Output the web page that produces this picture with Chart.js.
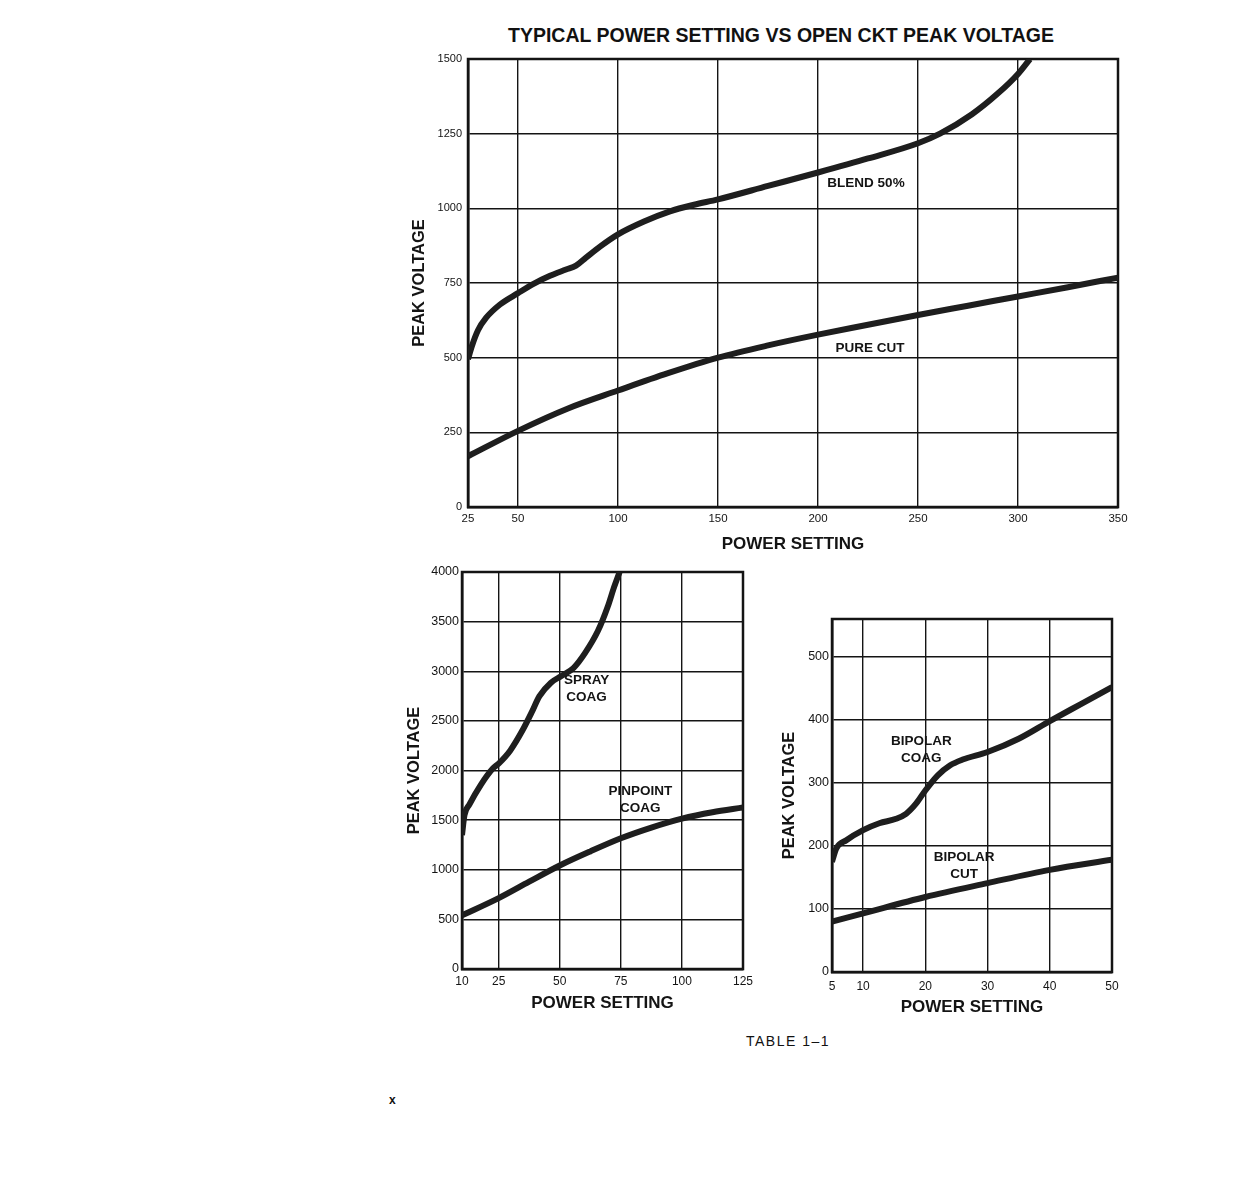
<!DOCTYPE html>
<html>
<head>
<meta charset="utf-8">
<script src="https://cdn.jsdelivr.net/npm/chart.js@4.4.1/dist/chart.umd.min.js"></script>
<style>
  body { margin: 0; background: #fff; width: 1242px; height: 1188px; position: relative; overflow: hidden;
         font-family: "Liberation Sans", Arial, sans-serif; color: #111; }
  canvas, .txt { position: absolute; }
  #mainTitle { left: 481px; top: 25px; width: 600px; text-align: center; font-size: 19.5px; font-weight: bold; line-height: 20px; }
  #tableNote { left: 688px; top: 1032px; width: 200px; text-align: center; font-size: 14px; letter-spacing: 1.5px; line-height: 18px; }
  #pageMark { left: 389px; top: 1093px; font-size: 12px; font-weight: bold; }
</style>
</head>
<body>
<div class="txt" id="mainTitle">TYPICAL POWER SETTING VS OPEN CKT PEAK VOLTAGE</div>
<canvas id="topChart" width="740" height="515" style="left:400px;top:45px"></canvas>
<canvas id="coagChart" width="360" height="464" style="left:400px;top:556px"></canvas>
<canvas id="bipolarChart" width="365" height="425" style="left:770px;top:600px"></canvas>
<div class="txt" id="tableNote">TABLE 1–1</div>
<div class="txt" id="pageMark">x</div>

<script>
const FONT = '"Liberation Sans", Arial, sans-serif';
const INK = '#141414';

// top chart: blend 50% and pure cut
const topXTicks = [25, 50, 100, 150, 200, 250, 300, 350];
const topYTicks = [0, 250, 500, 750, 1000, 1250, 1500];
const blendPower = [25, 27, 30, 34, 41, 50, 58, 66, 74, 79, 84, 91, 100, 113, 126, 138, 150, 175, 200, 225, 250, 261, 277, 290, 300, 306];
const blendVolts = [495, 540, 592, 633, 678, 716, 748, 774, 795, 808, 835, 872, 913, 956, 990, 1012, 1030, 1075, 1120, 1167, 1218, 1250, 1315, 1385, 1450, 1500];
const cutPower = [25, 50, 75, 100, 125, 150, 175, 200, 225, 250, 275, 300, 325, 350];
const cutVolts = [170, 255, 330, 390, 448, 500, 541, 577, 610, 643, 674, 705, 736, 768];

// bottom left: spray and pinpoint coag
const coagXTicks = [10, 25, 50, 75, 100, 125];
const coagYTicks = [0, 500, 1000, 1500, 2000, 2500, 3000, 3500, 4000];
const sprayPower = [10, 11, 13, 17.7, 22.6, 25, 29.7, 35, 38.4, 41.7, 46.4, 50.5, 55.7, 60.4, 65.7, 69.7, 72, 74.5];
const sprayVolts = [1350, 1550, 1656, 1856, 2020, 2070, 2200, 2415, 2580, 2750, 2885, 2950, 3035, 3185, 3410, 3655, 3830, 4000];
const pinPower = [10, 25, 37.5, 50, 62.5, 75, 87.5, 100, 112.5, 125];
const pinVolts = [540, 714, 880, 1043, 1185, 1317, 1425, 1515, 1580, 1627];

// bottom right: bipolar
const bipXTicks = [5, 10, 20, 30, 40, 50];
const bipYTicks = [0, 100, 200, 300, 400, 500];
const bipCoagPower = [5, 5.7, 7.3, 10, 12.6, 15.3, 16.9, 18.5, 20, 22, 24, 26, 30, 35, 40, 45, 50];
const bipCoagVolts = [175, 196, 209, 225, 236, 243, 251, 267, 288, 312, 328, 337, 349, 370, 398, 425, 452];
const bipCutPower = [5, 10, 20, 30, 40, 50];
const bipCutVolts = [80, 93, 119, 141, 162, 178];

function toPoints(xs, ys) {
    return xs.map((x, i) => ({ x: x, y: ys[i] }));
}

function curve(label, xs, ys) {
    return {
        label: label,
        data: toPoints(xs, ys),
        borderColor: '#1e1e1e',
        borderWidth: 6,
        pointRadius: 0,
        fill: false,
        cubicInterpolationMode: 'monotone'
    };
}

// plot frame round the chart area
const framePlugin = {
    id: 'frame',
    beforeDatasetsDraw(chart) {
        const { ctx, chartArea: a } = chart;
        ctx.save();
        ctx.strokeStyle = INK;
        ctx.lineWidth = 2.5;
        ctx.strokeRect(a.left, a.top, a.right - a.left, a.bottom - a.top);
        ctx.restore();
    }
};

// curve names written at data positions
function curveLabels(items) {
    return {
        id: 'curveLabels',
        afterDatasetsDraw(chart) {
            const ctx = chart.ctx;
            const xs = chart.scales.x, ys = chart.scales.y;
            ctx.save();
            ctx.fillStyle = INK;
            ctx.font = 'bold 13.5px ' + FONT;
            ctx.textAlign = 'center';
            ctx.textBaseline = 'middle';
            items.forEach(it => {
                const px = xs.getPixelForValue(it.x);
                const py = ys.getPixelForValue(it.y);
                const top = py - (it.lines.length - 1) * 17 / 2;
                it.lines.forEach((t, i) => ctx.fillText(t, px, top + i * 17));
            });
            ctx.restore();
        }
    };
}

function makeChart(id, cfg) {
    return new Chart(document.getElementById(id), {
        type: 'line',
        data: { datasets: cfg.datasets },
        options: {
            responsive: false,
            animation: false,
            layout: { padding: cfg.padding },
            plugins: { legend: { display: false }, tooltip: { enabled: false } },
            scales: {
                x: {
                    type: 'linear',
                    min: cfg.xTicks[0],
                    max: cfg.xTicks[cfg.xTicks.length - 1],
                    afterBuildTicks: s => { s.ticks = cfg.xTicks.map(v => ({ value: v })); },
                    afterFit: s => { s.height = cfg.xHeight; },
                    grid: { color: INK, lineWidth: 1.4, drawTicks: false },
                    border: { color: INK, width: 2.5 },
                    ticks: { color: INK, padding: cfg.xPad, maxRotation: 0, callback: v => String(v),
                             font: { size: cfg.xFont, family: FONT } },
                    title: {
                        display: true, text: 'POWER SETTING', color: INK,
                        font: { size: 17, weight: 'bold', family: FONT },
                        padding: { top: 0, bottom: cfg.xTitlePad }
                    }
                },
                y: {
                    min: 0,
                    max: cfg.yMax,
                    afterBuildTicks: s => { s.ticks = cfg.yTicks.map(v => ({ value: v })); },
                    afterFit: s => { s.width = cfg.yWidth; },
                    grid: { color: INK, lineWidth: 1.4, drawTicks: false },
                    border: { color: INK, width: 2.5 },
                    ticks: { color: INK, padding: cfg.yPad, callback: v => String(v),
                             font: { size: cfg.yFont, family: FONT } },
                    title: {
                        display: true, text: 'PEAK VOLTAGE', color: INK,
                        font: { size: 16.5, weight: 'bold', family: FONT },
                        padding: { top: cfg.yTitlePad, bottom: 0 }
                    }
                }
            }
        },
        plugins: [framePlugin, curveLabels(cfg.labels)]
    });
}

makeChart('topChart', {
    datasets: [curve('BLEND 50%', blendPower, blendVolts), curve('PURE CUT', cutPower, cutVolts)],
    xTicks: topXTicks, yTicks: topYTicks, yMax: 1500,
    padding: { top: 14, right: 22, left: 0, bottom: 0 },
    xHeight: 53, yWidth: 68, xPad: 5, yPad: 6, xFont: 11.5, yFont: 11,
    xTitlePad: 5, yTitlePad: 10,
    labels: [
        { lines: ['BLEND 50%'], x: 224, y: 1085 },
        { lines: ['PURE CUT'], x: 226, y: 532 }
    ]
});

makeChart('coagChart', {
    datasets: [curve('SPRAY COAG', sprayPower, sprayVolts), curve('PINPOINT COAG', pinPower, pinVolts)],
    xTicks: coagXTicks, yTicks: coagYTicks, yMax: 4000,
    padding: { top: 16, right: 17, left: 0, bottom: 0 },
    xHeight: 51, yWidth: 62, xPad: 5, yPad: 3, xFont: 12, yFont: 12.5,
    xTitlePad: 6, yTitlePad: 5,
    labels: [
        { lines: ['SPRAY', 'COAG'], x: 61, y: 2828 },
        { lines: ['PINPOINT', 'COAG'], x: 83, y: 1704 }
    ]
});

makeChart('bipolarChart', {
    datasets: [curve('BIPOLAR COAG', bipCoagPower, bipCoagVolts), curve('BIPOLAR CUT', bipCutPower, bipCutVolts)],
    xTicks: bipXTicks, yTicks: bipYTicks, yMax: 560,
    padding: { top: 19, right: 23, left: 0, bottom: 0 },
    xHeight: 53, yWidth: 62, xPad: 7, yPad: 3, xFont: 12, yFont: 12.5,
    xTitlePad: 7, yTitlePad: 10,
    labels: [
        { lines: ['BIPOLAR', 'COAG'], x: 19.35, y: 352 },
        { lines: ['BIPOLAR', 'CUT'], x: 26.25, y: 169 }
    ]
});
</script>
</body>
</html>
